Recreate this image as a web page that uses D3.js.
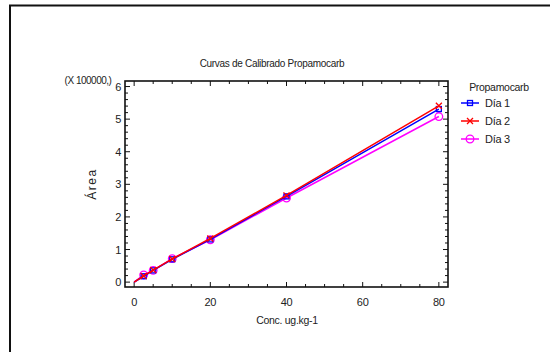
<!DOCTYPE html>
<html><head><meta charset="utf-8">
<script src="https://cdn.jsdelivr.net/npm/d3@7"></script>
<style>body{margin:0;background:#fff}svg{display:block;font-family:"Liberation Sans",Arial,sans-serif}</style>
</head><body><svg id="c" width="550" height="352"></svg>
<script>
const conc = [0, 2.5, 5, 10, 20, 40, 80];
const dia1 = [0, 0.18, 0.36, 0.70, 1.31, 2.63, 5.31];
const dia2 = [0, 0.19, 0.37, 0.71, 1.34, 2.66, 5.41];
const dia3 = [0, 0.22, 0.36, 0.72, 1.30, 2.58, 5.08];
const seriesNames = ["Día 1", "Día 2", "Día 3"];
const seriesColors = ["#0000ff", "#ff0000", "#ff00ff"];
const seriesMarkers = ["square", "cross", "circle"];
const xTicks = [0, 20, 40, 60, 80];
const yTicks = [0, 1, 2, 3, 4, 5, 6];
const title = "Curvas de Calibrado Propamocarb";
const xLabel = "Conc. ug.kg-1";
const yLabel = "Área";
const yScaleNote = "(X 100000,)";
const legendTitle = "Propamocarb";

const svg = d3.select("#c");
const L = 125, R = 448, T = 81, B = 287;
const x = d3.scaleLinear().domain([-2.4, 82.4]).range([L, R]);
const y = d3.scaleLinear().domain([-0.15, 6.17]).range([B, T]);

// outer border
svg.append("rect").attr("x", 10).attr("y", 5.5).attr("width", 600).attr("height", 400)
  .attr("fill", "none").attr("stroke", "#111").attr("stroke-width", 2);

// frame
svg.append("rect").attr("x", L).attr("y", T).attr("width", R - L).attr("height", B - T)
  .attr("fill", "none").attr("stroke", "#111").attr("stroke-width", 1.6);

// ticks
const g = svg.append("g").attr("stroke", "#111").attr("stroke-width", 1);
const xMinor = d3.range(0, 81, 5);
const yMinor = d3.range(0, 6.01, 0.2);
xMinor.forEach(v => {
  const len = xTicks.includes(v) ? 5 : 3;
  g.append("line").attr("x1", x(v)).attr("x2", x(v)).attr("y1", B).attr("y2", B - len);
  g.append("line").attr("x1", x(v)).attr("x2", x(v)).attr("y1", T).attr("y2", T + len);
});
yMinor.forEach(v => {
  const major = Math.abs(v - Math.round(v)) < 1e-6;
  const len = major ? 5 : 3;
  g.append("line").attr("y1", y(v)).attr("y2", y(v)).attr("x1", L).attr("x2", L + len);
  g.append("line").attr("y1", y(v)).attr("y2", y(v)).attr("x1", R).attr("x2", R - len);
});

const txt = (xx, yy, s, opts = {}) => svg.append("text").attr("x", xx).attr("y", yy)
  .attr("font-size", opts.size || 10.5).attr("fill", "#222")
  .attr("letter-spacing", opts.ls == null ? -0.3 : opts.ls)
  .attr("text-anchor", opts.anchor || "middle").attr("dominant-baseline", "central").text(s);

xTicks.forEach(v => txt(x(v), 302, v, { size: 11 }));
yTicks.forEach(v => txt(121, y(v), v, { anchor: "end", size: 11 }));

txt(272, 63, title, { size: 10 });
txt(88, 80, yScaleNote, { size: 10, ls: -0.5 });
txt(287, 320, xLabel, { size: 10.5 });
svg.append("text").attr("transform", `translate(92,184) rotate(-90)`)
  .attr("font-size", 12).attr("letter-spacing", 1.5).attr("fill", "#222")
  .attr("text-anchor", "middle").attr("dominant-baseline", "central").text(yLabel);

// series
const all = [dia1, dia2, dia3];
const line = d3.line().x((d, i) => x(conc[i])).y(d => y(d));
function marker(sel, type, color, cx, cy) {
  if (type === "square") sel.append("rect").attr("x", cx - 2.5).attr("y", cy - 2.5).attr("width", 5).attr("height", 5)
    .attr("fill", "none").attr("stroke", color).attr("stroke-width", 1.3);
  else if (type === "cross") sel.append("path").attr("d", `M${cx-3},${cy-3}L${cx+3},${cy+3}M${cx-3},${cy+3}L${cx+3},${cy-3}`)
    .attr("stroke", color).attr("stroke-width", 1.3);
  else sel.append("circle").attr("cx", cx).attr("cy", cy).attr("r", 3.8)
    .attr("fill", "none").attr("stroke", color).attr("stroke-width", 1.3);
}
[2, 0, 1].forEach(k => {
  const gs = svg.append("g");
  gs.append("path").attr("d", line(all[k])).attr("fill", "none").attr("stroke", seriesColors[k]).attr("stroke-width", 1.5);
  all[k].forEach((v, i) => { if (conc[i] > 0) marker(gs, seriesMarkers[k], seriesColors[k], x(conc[i]), y(v)); });
});

// legend
txt(499, 87, legendTitle, { size: 10.5 });
seriesNames.forEach((n, k) => {
  const yy = 103 + k * 18;
  svg.append("line").attr("x1", 461).attr("x2", 479).attr("y1", yy).attr("y2", yy)
    .attr("stroke", seriesColors[k]).attr("stroke-width", 1.5);
  marker(svg, seriesMarkers[k], seriesColors[k], 470, yy);
  txt(485, yy, n, { anchor: "start", size: 11 });
});
</script></body></html>
